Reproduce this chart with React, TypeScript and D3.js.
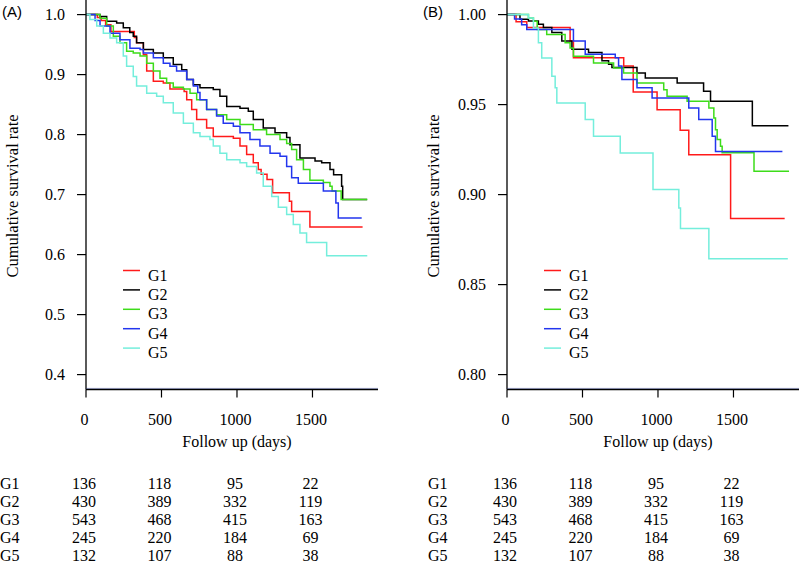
import React from "react";
import * as d3 from "d3";

const GROUPS = ["G1", "G2", "G3", "G4", "G5"];
const COLORS = ["#ff1a1a", "#000000", "#3ddc1a", "#2336ee", "#74eedc"];
const X_TICKS = [0, 500, 1000, 1500];
const A_Y_TICKS = [0.4, 0.5, 0.6, 0.7, 0.8, 0.9, 1.0];
const B_Y_TICKS = [0.8, 0.85, 0.9, 0.95, 1.0];

// numbers at risk (same table under both panels)
const RISK_G1 = [136, 118, 95, 22];
const RISK_G2 = [430, 389, 332, 119];
const RISK_G3 = [543, 468, 415, 163];
const RISK_G4 = [245, 220, 184, 69];
const RISK_G5 = [132, 107, 88, 38];

// Panel A survival steps [day, survival]
const A_G1: [number, number][] = [[0,1],[75,0.995],[100,0.99],[130,0.983],[165,0.972],[320,0.962],[335,0.953],[380,0.933],[402,0.906],[446,0.889],[512,0.886],[556,0.876],[650,0.872],[667,0.858],[700,0.842],[733,0.825],[799,0.811],[843,0.797],[976,0.794],[1020,0.781],[1064,0.767],[1108,0.753],[1141,0.742],[1160,0.734],[1199,0.725],[1236,0.703],[1347,0.689],[1362,0.672],[1483,0.646],[1832,0.646]];
const A_G2: [number, number][] = [[0,1],[93,0.997],[137,0.989],[203,0.986],[247,0.978],[290,0.97],[313,0.964],[335,0.953],[380,0.942],[446,0.936],[512,0.928],[578,0.917],[634,0.908],[667,0.892],[711,0.883],[755,0.878],[843,0.875],[887,0.864],[932,0.847],[1020,0.844],[1075,0.839],[1108,0.825],[1174,0.811],[1252,0.803],[1329,0.795],[1351,0.783],[1417,0.761],[1517,0.756],[1561,0.753],[1616,0.742],[1640,0.733],[1693,0.714],[1700,0.692],[1862,0.692]];
const A_G3: [number, number][] = [[0,1],[93,0.994],[137,0.981],[181,0.964],[225,0.953],[269,0.939],[313,0.936],[358,0.931],[402,0.919],[446,0.906],[490,0.894],[534,0.886],[578,0.879],[645,0.876],[689,0.869],[733,0.858],[799,0.842],[865,0.833],[932,0.825],[1020,0.817],[1108,0.808],[1196,0.8],[1285,0.792],[1329,0.785],[1362,0.775],[1395,0.758],[1440,0.742],[1483,0.724],[1572,0.72],[1616,0.714],[1630,0.706],[1690,0.692],[1863,0.692]];
const A_G4: [number, number][] = [[0,1],[60,0.99],[93,0.981],[159,0.969],[225,0.958],[291,0.944],[358,0.942],[380,0.936],[446,0.928],[512,0.919],[556,0.914],[600,0.906],[667,0.892],[711,0.881],[740,0.87],[755,0.858],[799,0.842],[865,0.831],[909,0.819],[976,0.814],[1020,0.803],[1086,0.792],[1152,0.781],[1219,0.769],[1285,0.764],[1329,0.747],[1362,0.728],[1406,0.719],[1572,0.706],[1655,0.686],[1671,0.661],[1826,0.661]];
const A_G5: [number, number][] = [[0,1],[26,0.992],[71,0.981],[115,0.969],[159,0.961],[203,0.953],[247,0.931],[269,0.914],[313,0.897],[335,0.881],[402,0.869],[468,0.864],[512,0.853],[578,0.836],[645,0.819],[711,0.803],[755,0.797],[821,0.792],[843,0.781],[887,0.769],[932,0.758],[1020,0.753],[1064,0.747],[1130,0.736],[1174,0.714],[1230,0.697],[1274,0.679],[1329,0.667],[1373,0.65],[1417,0.636],[1461,0.62],[1594,0.598],[1863,0.598]];

// Panel B survival steps [day, survival]
const B_G1: [number, number][] = [[0,1],[60,0.996],[131,0.9928],[418,0.9854],[440,0.976],[773,0.9715],[836,0.957],[994,0.9472],[1147,0.9357],[1204,0.9222],[1481,0.8867],[1839,0.8867]];
const B_G2: [number, number][] = [[0,1],[86,0.9974],[142,0.9965],[208,0.9946],[241,0.9928],[297,0.99],[363,0.9854],[430,0.9807],[540,0.9789],[629,0.9743],[673,0.9724],[695,0.9706],[861,0.9676],[916,0.9648],[1127,0.962],[1302,0.9574],[1348,0.9518],[1625,0.9383],[1864,0.9383]];
const B_G3: [number, number][] = [[0,1],[142,0.9981],[175,0.9963],[200,0.9917],[263,0.9889],[385,0.9843],[418,0.9815],[440,0.9769],[573,0.9731],[706,0.9704],[772,0.9676],[861,0.962],[1038,0.9583],[1060,0.9546],[1193,0.9518],[1337,0.9481],[1370,0.9426],[1381,0.936],[1392,0.9306],[1414,0.9268],[1425,0.9232],[1636,0.913],[1868,0.913]];
const B_G4: [number, number][] = [[0,1],[50,0.9975],[97,0.9944],[131,0.9917],[440,0.9854],[518,0.978],[717,0.976],[739,0.9715],[761,0.9639],[861,0.9593],[961,0.9537],[1204,0.9481],[1270,0.9417],[1359,0.9324],[1381,0.924],[1824,0.924]];
const B_G5: [number, number][] = [[0,1],[142,0.9981],[175,0.9926],[208,0.9843],[230,0.9759],[297,0.9657],[319,0.9593],[330,0.9509],[518,0.9417],[573,0.9324],[750,0.9231],[967,0.9028],[1138,0.8926],[1149,0.8811],[1337,0.8643],[1860,0.8643]];

const SERIF = "'Liberation Serif', 'DejaVu Serif', serif";
const SANS = "'Liberation Sans', Arial, sans-serif";

type PanelProps = {
  axisX: number;
  tag: string;
  series: [number, number][][];
  yDomain: [number, number];
  yTicks: number[];
  fmt: (v: number) => string;
  tableX: number;
};

function Panel({ axisX, tag, series, yDomain, yTicks, fmt, tableX }: PanelProps) {
  const x = d3.scaleLinear().domain([0, 1934]).range([axisX, axisX + 292]);
  const y = d3.scaleLinear().domain(yDomain).range([389, 0.2]);
  const line = d3
    .line<[number, number]>()
    .x((d) => x(d[0]))
    .y((d) => y(d[1]))
    .curve(d3.curveStepAfter);
  const risk = [RISK_G1, RISK_G2, RISK_G3, RISK_G4, RISK_G5];
  return (
    <g>
      <text x={axisX - 84} y={17} fontFamily={SANS} fontSize={15}>{tag}</text>
      <text
        transform={`translate(${axisX - 68},196) rotate(-90)`}
        textAnchor="middle"
        fontFamily={SERIF}
        fontSize={16.5}
      >
        Cumulative survival rate
      </text>
      {series.map((s, i) => (
        <path key={i} d={line(s) || ""} fill="none" stroke={COLORS[i]} strokeWidth={1.5} />
      ))}
      {/* axes */}
      <line x1={axisX} x2={axisX} y1={0} y2={389.5} stroke="#000" strokeWidth={1.3} />
      <line x1={axisX} x2={x.range()[1]} y1={388.4} y2={388.4} stroke="#4a5ab8" strokeWidth={0.8} strokeOpacity={0.6} />
      <line x1={axisX} x2={x.range()[1]} y1={389.5} y2={389.5} stroke="#000" strokeWidth={1.3} />
      {yTicks.map((t) => (
        <g key={t}>
          <line x1={axisX - 9} x2={axisX} y1={y(t)} y2={y(t)} stroke="#000" strokeWidth={1.2} />
          <text x={axisX - 21} y={y(t) + 5.5} textAnchor="end" fontFamily={SERIF} fontSize={16}>
            {fmt(t)}
          </text>
        </g>
      ))}
      {X_TICKS.map((t) => (
        <g key={t}>
          <line x1={x(t)} x2={x(t)} y1={389.5} y2={397.5} stroke="#000" strokeWidth={1.2} />
          <text x={x(t) - 1.5} y={424.5} textAnchor="middle" fontFamily={SERIF} fontSize={16}>
            {t}
          </text>
        </g>
      ))}
      <text x={axisX + 151} y={447} textAnchor="middle" fontFamily={SERIF} fontSize={16}>
        Follow up (days)
      </text>
      {/* legend */}
      {GROUPS.map((g, i) => (
        <g key={g}>
          <line
            x1={axisX + 37}
            x2={axisX + 54}
            y1={280.5 + i * 19.4 - 10}
            y2={280.5 + i * 19.4 - 10}
            stroke={COLORS[i]}
            strokeWidth={1.5}
          />
          <text x={axisX + 62} y={280.5 + i * 19.4} fontFamily={SERIF} fontSize={16}>
            {g}
          </text>
        </g>
      ))}
      {/* number at risk table */}
      {GROUPS.map((g, i) => (
        <g key={g}>
          <text x={tableX} y={489 + i * 18} fontFamily={SERIF} fontSize={16}>{g}</text>
          {risk[i].map((v, j) => (
            <text
              key={j}
              x={x(X_TICKS[j]) - 2}
              y={489 + i * 18}
              textAnchor="middle"
              fontFamily={SERIF}
              fontSize={16}
            >
              {v}
            </text>
          ))}
        </g>
      ))}
    </g>
  );
}

export default function App() {
  return (
    <svg
      width={800}
      height={564}
      style={{ position: "absolute", left: 0, top: 0, background: "#fff" }}
    >
      <rect width={800} height={564} fill="#fff" />
      <Panel
        axisX={86}
        tag="(A)"
        series={[A_G1, A_G2, A_G3, A_G4, A_G5]}
        yDomain={[0.376, 1.024]}
        yTicks={A_Y_TICKS}
        fmt={(v) => v.toFixed(1)}
        tableX={0}
      />
      <Panel
        axisX={507}
        tag="(B)"
        series={[B_G1, B_G2, B_G3, B_G4, B_G5]}
        yDomain={[0.792, 1.008]}
        yTicks={B_Y_TICKS}
        fmt={(v) => v.toFixed(2)}
        tableX={428}
      />
    </svg>
  );
}
